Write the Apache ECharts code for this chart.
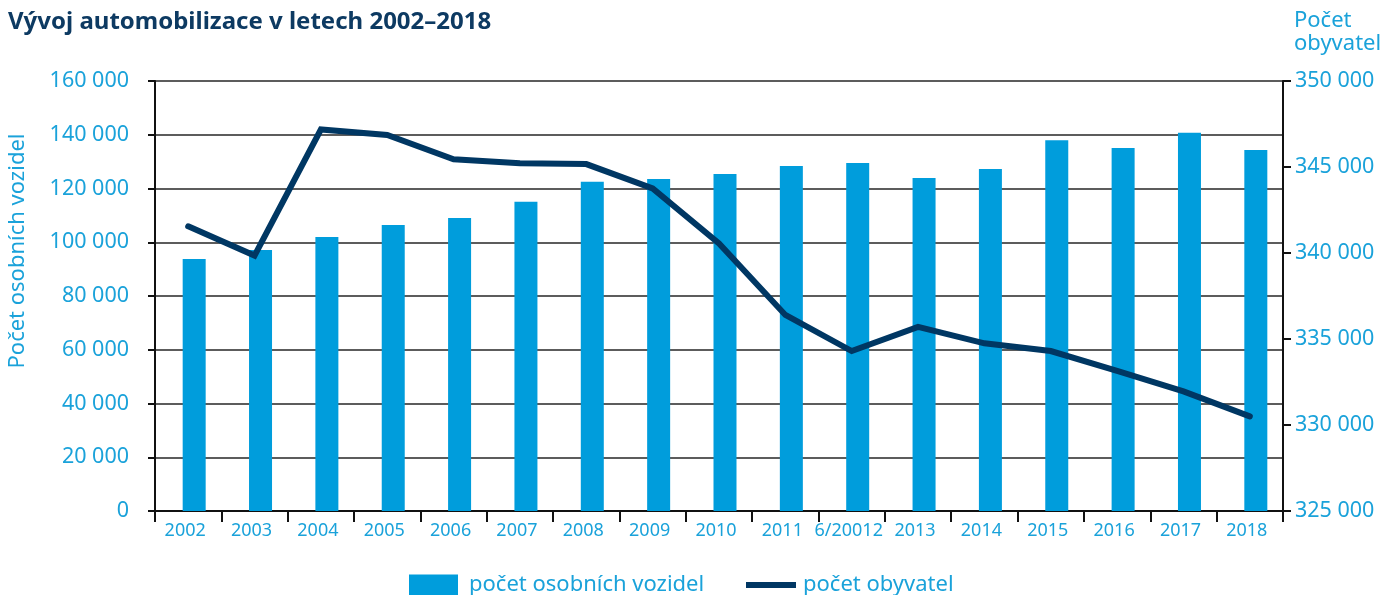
<!DOCTYPE html>
<html><head><meta charset="utf-8">
<script src="https://cdn.jsdelivr.net/npm/echarts@6/dist/echarts.min.js"></script>
<style>html,body{margin:0;padding:0;background:#fff}#c{width:1384px;height:595px}</style>
</head><body><div id="c"></div>
<script>
const categories = ['2002','2003','2004','2005','2006','2007','2008','2009','2010','2011','6/20012','2013','2014','2015','2016','2017','2018'];
const vehicles = [93800,97100,102000,106400,109000,115100,122500,123500,125400,128400,129500,123900,127300,138000,135100,140700,134300];
const population = [341550,339850,347180,346860,345450,345220,345170,343750,340550,336400,334300,335700,334750,334300,333150,331950,330500];
const titleText = 'Vývoj automobilizace v letech 2002–2018';
const leftName = 'Počet osobních vozidel';
const rightName = 'Počet\nobyvatel';
const seriesNames = ['počet osobních vozidel','počet obyvatel'];

const FONT = '"Noto Sans", sans-serif';
const BLUE_TXT = '#1aa2da';
const BAR = '#009ddc';
const NAVY = '#003763';
const fmt = v => String(v).replace(/\B(?=(\d{3})+(?!\d))/g, ' ');

const chart = echarts.init(document.getElementById('c'), null, {renderer:'canvas'});
chart.setOption({
  animation:false,
  backgroundColor:'#fff',
  textStyle:{fontFamily:FONT},
  grid:[
    {left:155, right:101, top:81, bottom:84},
    {left:161, right:95, top:81, bottom:84}
  ],
  legend:[
    {data:[seriesNames[0]], left:409, top:574, padding:0, itemWidth:49, itemHeight:21, icon:'rect',
     textStyle:{color:BLUE_TXT, fontSize:22, fontFamily:FONT, padding:[0,0,0,6]}},
    {data:[seriesNames[1]], left:746, top:574, padding:0, itemWidth:50, itemHeight:6, icon:'rect',
     itemStyle:{color:NAVY},
     textStyle:{color:BLUE_TXT, fontSize:22, fontFamily:FONT, padding:[0,0,0,2]}}
  ],
  graphic:[
    {type:'text', left:8, top:10, style:{text:titleText, fill:'#0d3a62', font:'bold 24px "Noto Sans", sans-serif'}},
    {type:'text', x:18, y:251, rotation:Math.PI/2, style:{text:leftName, fill:BLUE_TXT, font:'22px "Noto Sans", sans-serif', align:'center', verticalAlign:'middle'}},
    {type:'text', left:1294, top:9, style:{text:rightName, fill:BLUE_TXT, font:'22px "Noto Sans", sans-serif', lineHeight:23}}
  ],
  xAxis:[
    {type:'category', gridIndex:0, data:categories, boundaryGap:true,
     axisLine:{lineStyle:{color:'#111', width:2}},
     axisTick:{show:true, length:11, lineStyle:{color:'#111', width:2}},
     axisLabel:{color:BLUE_TXT, fontSize:18, margin:11, interval:0, fontFamily:FONT, padding:[0,6,0,0]}},
    {type:'category', gridIndex:1, data:categories, show:false}
  ],
  yAxis:[
    {type:'value', gridIndex:0, min:0, max:160000, interval:20000, position:'left',
     axisLine:{show:true, lineStyle:{color:'#111', width:2}},
     axisTick:{show:true, length:7, lineStyle:{color:'#111', width:2}},
     axisLabel:{color:BLUE_TXT, fontSize:21.5, margin:26, formatter:fmt, fontFamily:FONT},
     splitLine:{show:true, lineStyle:{color:'#262626', width:1.7}}},
    {type:'value', gridIndex:0, min:325000, max:350000, interval:5000, position:'right',
     axisLine:{show:true, lineStyle:{color:'#111', width:2}},
     axisTick:{show:true, length:8, lineStyle:{color:'#111', width:2}},
     axisLabel:{color:BLUE_TXT, fontSize:21.5, margin:12, formatter:fmt, fontFamily:FONT},
     splitLine:{show:false}},
    {type:'value', gridIndex:1, min:0, max:160000, show:false, splitLine:{show:false}}
  ],
  series:[
    {name:seriesNames[0], type:'bar', xAxisIndex:1, yAxisIndex:2, data:vehicles, barWidth:23,
     itemStyle:{color:BAR}, z:3},
    {name:seriesNames[1], type:'line', xAxisIndex:0, yAxisIndex:1, data:population,
     showSymbol:false, symbol:'none', lineStyle:{color:NAVY, width:6, cap:'round', join:'miter'},
     itemStyle:{color:NAVY}, z:5}
  ]
});
</script></body></html>
